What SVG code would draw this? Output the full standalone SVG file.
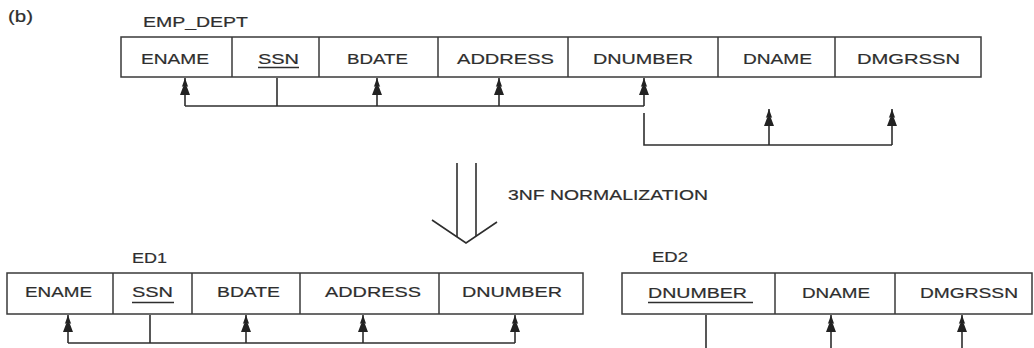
<svg xmlns="http://www.w3.org/2000/svg" width="1034" height="348" viewBox="0 0 1034 348">
<style>
  .box{fill:#fff;stroke:#3a3a3a;stroke-width:1.5}
  .div{stroke:#3a3a3a;stroke-width:1.5}
  .t{font-family:"Liberation Sans",Arial,sans-serif;font-size:15px;fill:#2e2e2e;stroke:#2e2e2e;stroke-width:0.2}
  .lbl{font-family:"Liberation Sans",Arial,sans-serif;font-size:15px;fill:#2e2e2e;stroke:#2e2e2e;stroke-width:0.2}
  .ul{stroke:#2e2e2e;stroke-width:1.3}
  .c{fill:none;stroke:#2e2e2e;stroke-width:1.6}
  .a{fill:none;stroke:#2e2e2e;stroke-width:1.6;marker-end:url(#ah)}
  .big{fill:none;stroke:#2e2e2e;stroke-width:1.6}
</style>
<defs>
  <marker id="ah" viewBox="0 -6 18 12" refX="17" refY="0" markerWidth="18" markerHeight="12" markerUnits="userSpaceOnUse" orient="auto">
    <path d="M17,0 L8,-3.2 L9,-1.6 L0,-5 L0,5 L9,1.6 L8,3.2 Z" fill="#222"/>
  </marker>
</defs>
<rect width="1034" height="348" fill="#fff"/>

<g id="labels">
  <text class="lbl" x="8" y="22" textLength="25" lengthAdjust="spacingAndGlyphs" style="font-size:16px">(b)</text>
  <text class="lbl" x="143" y="27" textLength="105" lengthAdjust="spacingAndGlyphs">EMP_DEPT</text>
  <text class="lbl" x="132" y="263" textLength="35" lengthAdjust="spacingAndGlyphs">ED1</text>
  <text class="lbl" x="652" y="262" textLength="36" lengthAdjust="spacingAndGlyphs">ED2</text>
  <text class="lbl" x="508" y="200" textLength="200" lengthAdjust="spacingAndGlyphs" style="font-size:14px">3NF NORMALIZATION</text>
</g>

<g id="emp_dept">
  <rect class="box" x="121" y="37" width="860" height="40"/>
  <line class="div" x1="232" y1="37" x2="232" y2="77"/>
  <line class="div" x1="319" y1="37" x2="319" y2="77"/>
  <line class="div" x1="438" y1="37" x2="438" y2="77"/>
  <line class="div" x1="568" y1="37" x2="568" y2="77"/>
  <line class="div" x1="718" y1="37" x2="718" y2="77"/>
  <line class="div" x1="835" y1="37" x2="835" y2="77"/>
  <text class="t" x="141" y="64" textLength="68" lengthAdjust="spacingAndGlyphs">ENAME</text>
  <text class="t" x="258" y="64" textLength="41" lengthAdjust="spacingAndGlyphs">SSN</text>
  <line class="ul" x1="258" y1="67.5" x2="299" y2="67.5"/>
  <text class="t" x="347" y="64" textLength="61" lengthAdjust="spacingAndGlyphs">BDATE</text>
  <text class="t" x="457" y="64" textLength="97" lengthAdjust="spacingAndGlyphs">ADDRESS</text>
  <text class="t" x="593" y="64" textLength="100" lengthAdjust="spacingAndGlyphs">DNUMBER</text>
  <text class="t" x="743" y="64" textLength="69" lengthAdjust="spacingAndGlyphs">DNAME</text>
  <text class="t" x="857" y="64" textLength="103" lengthAdjust="spacingAndGlyphs">DMGRSSN</text>
</g>

<g id="ed1">
  <rect class="box" x="7" y="273" width="576" height="41"/>
  <line class="div" x1="113" y1="273" x2="113" y2="314"/>
  <line class="div" x1="192" y1="273" x2="192" y2="314"/>
  <line class="div" x1="300" y1="273" x2="300" y2="314"/>
  <line class="div" x1="439" y1="273" x2="439" y2="314"/>
  <text class="t" x="25" y="297" textLength="67" lengthAdjust="spacingAndGlyphs">ENAME</text>
  <text class="t" x="132" y="297" textLength="41" lengthAdjust="spacingAndGlyphs">SSN</text>
  <line class="ul" x1="132" y1="302.5" x2="174" y2="302.5"/>
  <text class="t" x="217" y="297" textLength="63" lengthAdjust="spacingAndGlyphs">BDATE</text>
  <text class="t" x="325" y="297" textLength="96" lengthAdjust="spacingAndGlyphs">ADDRESS</text>
  <text class="t" x="462" y="297" textLength="100" lengthAdjust="spacingAndGlyphs">DNUMBER</text>
</g>

<g id="ed2">
  <rect class="box" x="622" y="273" width="410" height="41"/>
  <line class="div" x1="775" y1="273" x2="775" y2="314"/>
  <line class="div" x1="895" y1="273" x2="895" y2="314"/>
  <text class="t" x="648" y="298" textLength="99" lengthAdjust="spacingAndGlyphs">DNUMBER</text>
  <line class="ul" x1="648" y1="302.5" x2="753" y2="302.5"/>
  <text class="t" x="802" y="298" textLength="68" lengthAdjust="spacingAndGlyphs">DNAME</text>
  <text class="t" x="920" y="298" textLength="98" lengthAdjust="spacingAndGlyphs">DMGRSSN</text>
</g>

<g id="normalization-arrow">
  <line class="big" x1="457" y1="163" x2="457" y2="237"/>
  <line class="big" x1="476" y1="163" x2="476" y2="236"/>
  <polyline class="big" points="432,220 466,243 497,222"/>
</g>

<g id="connectors">
  <polyline class="c" points="185,106 644,106"/>
  <line class="c" x1="277" y1="78" x2="277" y2="106"/>
  <line class="a" x1="185" y1="106" x2="185" y2="78"/>
  <line class="a" x1="377" y1="106" x2="377" y2="78"/>
  <line class="a" x1="499" y1="106" x2="499" y2="78"/>
  <line class="a" x1="644" y1="106" x2="644" y2="78"/>
  <polyline class="c" points="644,113 644,145 892,145"/>
  <line class="a" x1="769" y1="145" x2="769" y2="109"/>
  <line class="a" x1="892" y1="145" x2="892" y2="109"/>
  <polyline class="c" points="68,343 515,343"/>
  <line class="c" x1="150" y1="315" x2="150" y2="343"/>
  <line class="a" x1="68" y1="343" x2="68" y2="315"/>
  <line class="a" x1="246" y1="343" x2="246" y2="315"/>
  <line class="a" x1="363" y1="343" x2="363" y2="315"/>
  <line class="a" x1="515" y1="343" x2="515" y2="315"/>
  <line class="c" x1="706" y1="315" x2="706" y2="348"/>
  <line class="a" x1="831" y1="348" x2="831" y2="315"/>
  <line class="a" x1="962" y1="348" x2="962" y2="315"/>
</g>
</svg>
